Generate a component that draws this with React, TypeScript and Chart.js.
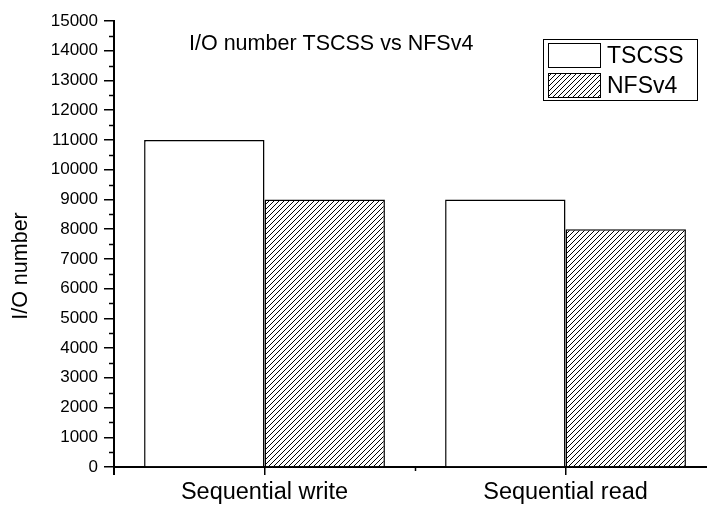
import React, { useEffect, useRef } from "react";
import { Chart, registerables } from "chart.js";

Chart.register(...registerables);

const categories = ["Sequential write", "Sequential read"];
const seriesNames = ["TSCSS", "NFSv4"];
const tscssValues = [11000, 9000];
const nfsv4Values = [9000, 8000];
const yMax = 15000;
const yStep = 1000;
const chartTitle = "I/O number TSCSS vs NFSv4";
const yTitle = "I/O number";

const FONT = "'Liberation Sans', Arial, sans-serif";

function makeHatch(): CanvasPattern | string {
  const c = document.createElement("canvas");
  const s = 5;
  c.width = s;
  c.height = s;
  const g = c.getContext("2d");
  if (!g) return "#fff";
  g.fillStyle = "#fff";
  g.fillRect(0, 0, s, s);
  g.strokeStyle = "#000";
  g.lineWidth = 1;
  for (const off of [-s, 0, s]) {
    g.beginPath();
    g.moveTo(off - 1, s + 1);
    g.lineTo(off + s + 1, -1);
    g.stroke();
  }
  const p = g.createPattern(c, "repeat");
  return p || "#fff";
}

export default function App() {
  const ref = useRef<HTMLCanvasElement>(null);

  useEffect(() => {
    if (!ref.current) return;
    const hatch = makeHatch();

    const decor = {
      id: "decor",
      afterDraw(chart: any) {
        const ctx = chart.ctx as CanvasRenderingContext2D;
        const xs = chart.scales.x;
        const ys = chart.scales.y;
        ctx.save();
        ctx.strokeStyle = "#000";
        ctx.lineWidth = 1.5;
        // minor y ticks
        for (let v = yStep / 2; v < yMax; v += yStep) {
          const py = Math.round(ys.getPixelForValue(v)) + 0.5;
          ctx.beginPath();
          ctx.moveTo(xs.left - 5, py);
          ctx.lineTo(xs.left, py);
          ctx.stroke();
        }
        // minor x tick between categories, and left edge tick
        const mx = Math.round(xs.getPixelForValue(1.5)) + 0.5;
        ctx.beginPath();
        ctx.moveTo(mx, ys.bottom);
        ctx.lineTo(mx, ys.bottom + 4);
        ctx.stroke();
        const lx = xs.left;
        ctx.lineWidth = 2;
        ctx.beginPath();
        ctx.moveTo(lx, ys.bottom);
        ctx.lineTo(lx, ys.bottom + 8);
        ctx.stroke();

        // title
        ctx.fillStyle = "#000";
        ctx.font = `21.5px ${FONT}`;
        ctx.textAlign = "left";
        ctx.textBaseline = "alphabetic";
        ctx.fillText(chartTitle, 189, 50);

        // y axis title
        ctx.save();
        ctx.translate(21, 266);
        ctx.rotate(-Math.PI / 2);
        ctx.textAlign = "center";
        ctx.textBaseline = "middle";
        ctx.font = `21.5px ${FONT}`;
        ctx.fillText(yTitle, 0, 0);
        ctx.restore();

        // legend
        ctx.lineWidth = 1;
        ctx.strokeRect(543.5, 39.5, 154, 61);
        ctx.fillStyle = "#fff";
        ctx.fillRect(548.5, 43.5, 52, 24);
        ctx.strokeRect(548.5, 43.5, 52, 24);
        ctx.fillStyle = hatch as any;
        ctx.fillRect(548.5, 73.5, 52, 24);
        ctx.strokeRect(548.5, 73.5, 52, 24);
        ctx.fillStyle = "#000";
        ctx.textAlign = "left";
        ctx.textBaseline = "alphabetic";
        ctx.font = `23px ${FONT}`;
        ctx.fillText(seriesNames[0], 607, 63);
        ctx.fillText(seriesNames[1], 607, 93);
        ctx.restore();
      },
    };

    const chart = new Chart(ref.current, {
      type: "bar",
      data: {
        datasets: [
          {
            label: seriesNames[0],
            data: tscssValues.map((v, i) => ({ x: i + 1, y: v })),
            backgroundColor: "#fff",
            borderColor: "#000",
            borderWidth: 1.5,
            categoryPercentage: 0.8,
            barPercentage: 1.0,
          },
          {
            label: seriesNames[1],
            data: nfsv4Values.map((v, i) => ({ x: i + 1, y: v })),
            backgroundColor: hatch as any,
            borderColor: "#000",
            borderWidth: 1.5,
            categoryPercentage: 0.8,
            barPercentage: 1.0,
          },
        ],
      },
      options: {
        responsive: false,
        animation: false,
        devicePixelRatio: 1,
        layout: { padding: { top: 21, right: 0, bottom: 0, left: 0 } },
        plugins: {
          legend: { display: false },
          title: { display: false },
          tooltip: { enabled: false },
        },
        scales: {
          x: {
            type: "linear",
            offset: false,
            min: 0.5,
            max: 2.47,
            afterBuildTicks: (scale: any) => {
              scale.ticks = [{ value: 1 }, { value: 2 }];
            },
            afterFit: (scale: any) => {
              scale.height = 39;
            },
            ticks: {
              autoSkip: false,
              maxRotation: 0,
              padding: 3,
              color: "#000",
              font: { family: FONT, size: 23.5 },
              callback: (v: any) => (v === 1 ? categories[0] : v === 2 ? categories[1] : ""),
            },
            grid: {
              display: true,
              offset: false,
              drawOnChartArea: false,
              drawTicks: true,
              tickLength: 8,
              lineWidth: 1.5,
              color: "#000",
            },
            border: { display: true, color: "#000", width: 2 },
          },
          y: {
            min: 0,
            max: yMax,
            afterFit: (scale: any) => {
              scale.width = 114;
            },
            ticks: {
              stepSize: yStep,
              padding: 6,
              color: "#000",
              font: { family: FONT, size: 17 },
              callback: (v: any) => String(v),
            },
            grid: {
              display: true,
              drawOnChartArea: false,
              drawTicks: true,
              tickLength: 10,
              lineWidth: 1.5,
              color: "#000",
            },
            border: { display: true, color: "#000", width: 2 },
            title: { display: false },
          },
        },
      },
      plugins: [decor],
    } as any);

    return () => chart.destroy();
  }, []);

  return (
    <div style={{ position: "fixed", left: 0, top: 0, width: 707, height: 506, background: "#fff" }}>
      <canvas ref={ref} width={707} height={506} />
    </div>
  );
}
